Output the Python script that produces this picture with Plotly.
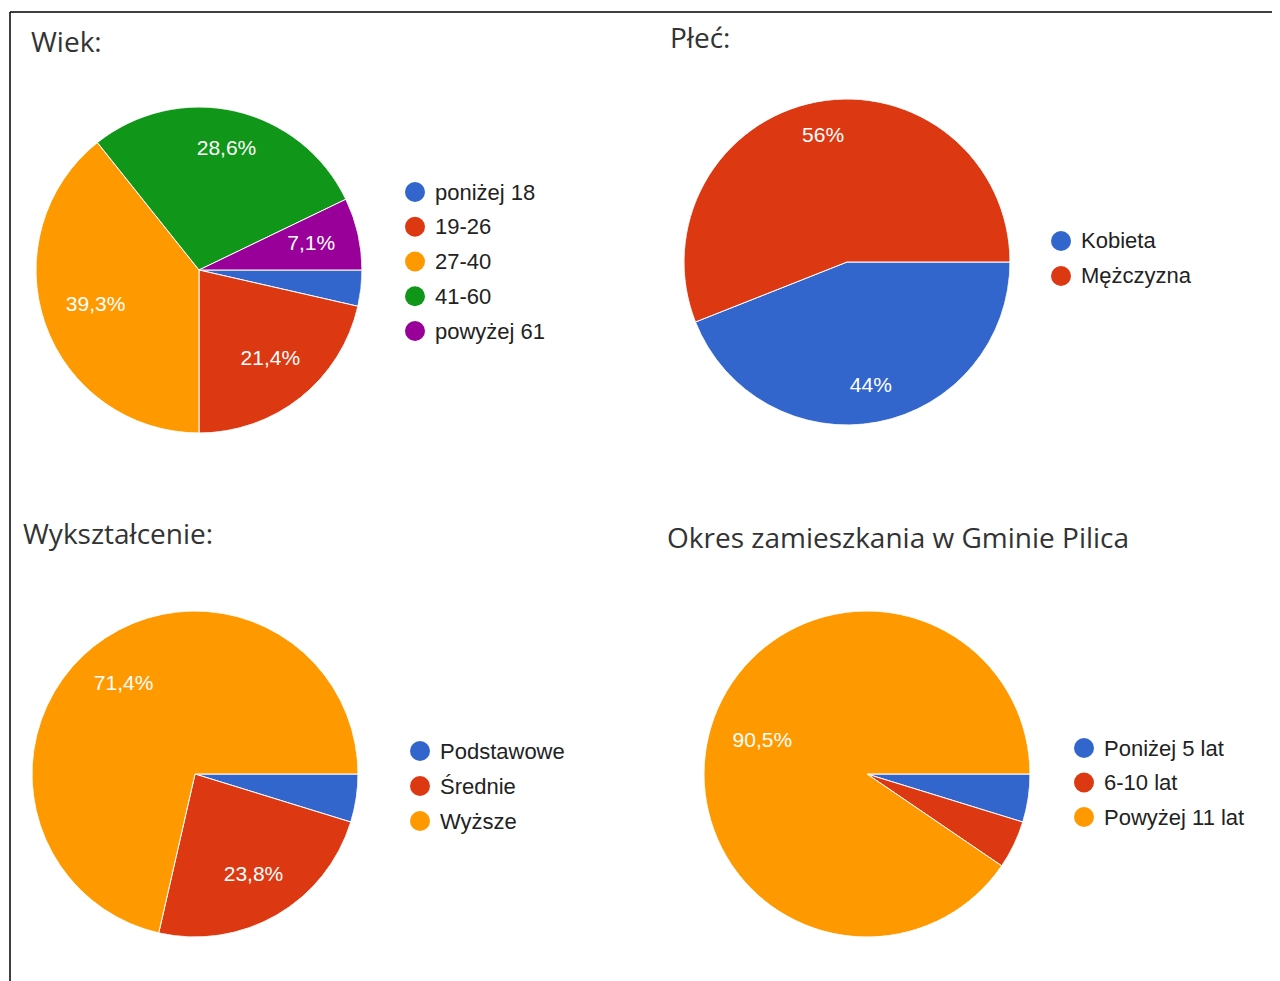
import math
import plotly.graph_objects as go

# page body has an 8px default margin; figure fills the rest of the window
OFF = 8
W, H = 1280 - OFF, 981 - OFF

# ---------------- data ----------------
wiek_labels = ["poniżej 18", "19-26", "27-40", "41-60", "powyżej 61"]
wiek_values = [1, 6, 11, 8, 2]
wiek_colors = ["#3366cc", "#dc3912", "#ff9900", "#109618", "#990099"]

plec_labels = ["Kobieta", "Mężczyzna"]
plec_values = [11, 14]
plec_colors = ["#3366cc", "#dc3912"]

wyk_labels = ["Podstawowe", "Średnie", "Wyższe"]
wyk_values = [1, 5, 15]
wyk_colors = ["#3366cc", "#dc3912", "#ff9900"]

okres_labels = ["Poniżej 5 lat", "6-10 lat", "Powyżej 11 lat"]
okres_values = [1, 1, 19]
okres_colors = ["#3366cc", "#dc3912", "#ff9900"]

titles = ["Wiek:", "Płeć:", "Wykształcenie:", "Okres zamieszkania w Gminie Pilica"]

START_ANGLE = 90      # first slice starts at 3 o'clock
LABEL_FONT = 21
OUTER_FRAC = 0.86     # outer corner of a label box sits at this fraction of radius


def px(x):
    return (x - OFF) / W


def py(y):
    return 1 - (y - OFF) / H


def pct_text(values, threshold=0.05):
    tot = sum(values)
    out = []
    for v in values:
        p = v / tot
        if p < threshold:
            out.append("")
            continue
        s = f"{p * 100:.1f}"
        if s.endswith(".0"):
            s = s[:-2]
        out.append(s.replace(".", ",") + "%")
    return out


def mid_angles(values):
    tot = sum(values)
    out, cum = [], 0
    for v in values:
        out.append(START_ANGLE + 360 * (cum + v / 2) / tot)
        cum += v
    return out


def widths(values):
    tot = sum(values)
    return [360 * v / tot for v in values]


CHAR_W = {",": 0.278, "%": 0.889}


def label_radii(texts, angles, rpx):
    """Fraction of radius for each label so its outer corner stays inside."""
    out = []
    R = OUTER_FRAC * rpx
    for t, a in zip(texts, angles):
        w = sum(CHAR_W.get(c, 0.556) for c in t) * LABEL_FONT
        h = 0.72 * LABEL_FONT
        ux = math.sin(math.radians(a))
        uy = -math.cos(math.radians(a))
        ax = math.copysign(w / 2, ux)
        by = math.copysign(h / 2, uy)
        p = ux * ax + uy * by
        d = -p + math.sqrt(max(p * p - (ax * ax + by * by - R * R), 0))
        out.append(d / rpx)
    return out


charts = [
    dict(labels=wiek_labels, values=wiek_values, colors=wiek_colors,
         c=(199, 270), r=163, title=titles[0], tpos=(29, 41),
         leg=(415, 192, 34.75)),
    dict(labels=plec_labels, values=plec_values, colors=plec_colors,
         c=(847, 262), r=163, title=titles[1], tpos=(668, 37),
         leg=(1061, 241, 35)),
    dict(labels=wyk_labels, values=wyk_values, colors=wyk_colors,
         c=(195, 774), r=163, title=titles[2], tpos=(21, 533),
         leg=(420, 751, 35)),
    dict(labels=okres_labels, values=okres_values, colors=okres_colors,
         c=(867, 774), r=163, title=titles[3], tpos=(665, 537),
         leg=(1084, 748, 34.5)),
]

fig = go.Figure()
shapes = []
annotations = []
layout_polars = {}

for k, ch in enumerate(charts):
    cx, cy = ch["c"]
    r = ch["r"]
    dom = dict(x=[px(cx - r), px(cx + r)], y=[py(cy + r), py(cy - r)])
    pname = "polar" if k == 0 else f"polar{k + 1}"
    pct = [v / sum(ch["values"]) * 100 for v in ch["values"]]
    mids = mid_angles(ch["values"])
    texts = pct_text(ch["values"])
    # pie slices as full-radius polar wedges
    fig.add_trace(go.Barpolar(
        r=[1] * len(ch["values"]), theta=mids,
        width=widths(ch["values"]), base=0,
        marker=dict(color=ch["colors"], line=dict(color="white", width=1)),
        customdata=[[lab, p] for lab, p in zip(ch["labels"], pct)],
        hovertemplate="%{customdata[0]}: %{customdata[1]:.1f}%<extra></extra>",
        subplot=pname, showlegend=False,
    ))
    # percentage labels on each slice's bisector
    fig.add_trace(go.Scatterpolar(
        r=label_radii(texts, mids, r), theta=mids,
        text=texts, mode="text",
        textfont=dict(family="Arial", size=LABEL_FONT, color="white"),
        textposition="middle center", subplot=pname,
        showlegend=False, hoverinfo="skip",
    ))
    layout_polars[pname] = dict(
        domain=dom, bgcolor="rgba(0,0,0,0)", bargap=0, hole=0,
        radialaxis=dict(visible=False, range=[0, 1], showgrid=False),
        angularaxis=dict(visible=False, rotation=90, direction="clockwise",
                         showgrid=False),
    )
    tx, ty = ch["tpos"]
    annotations.append(dict(
        x=px(tx), y=py(ty), xref="paper", yref="paper", xanchor="left",
        yanchor="middle", text=ch["title"], showarrow=False,
        font=dict(family="Open Sans", size=28, color="#333333")))
    lx, ly0, step = ch["leg"]
    for i, (lab, col) in enumerate(zip(ch["labels"], ch["colors"])):
        yy = ly0 + i * step
        shapes.append(dict(type="circle", xref="paper", yref="paper",
                           x0=px(lx - 10), x1=px(lx + 10),
                           y0=py(yy + 10), y1=py(yy - 10),
                           fillcolor=col, line=dict(width=0)))
        annotations.append(dict(
            x=px(lx + 18), y=py(yy), xref="paper", yref="paper",
            xanchor="left", yanchor="middle", text=lab, showarrow=False,
            font=dict(family="Arial", size=22, color="#222222")))

# frame lines
shapes.append(dict(type="line", xref="paper", yref="paper",
                   x0=px(10), x1=1, y0=py(12), y1=py(12),
                   line=dict(color="black", width=1.5)))
shapes.append(dict(type="line", xref="paper", yref="paper",
                   x0=px(10), x1=px(10), y0=py(12), y1=0,
                   line=dict(color="black", width=1.5)))

fig.update_layout(
    width=W, height=H,
    margin=dict(l=0, r=0, t=0, b=0),
    paper_bgcolor="white", plot_bgcolor="white",
    shapes=shapes, annotations=annotations,
    **layout_polars,
)

fig.write_html("out.html")
